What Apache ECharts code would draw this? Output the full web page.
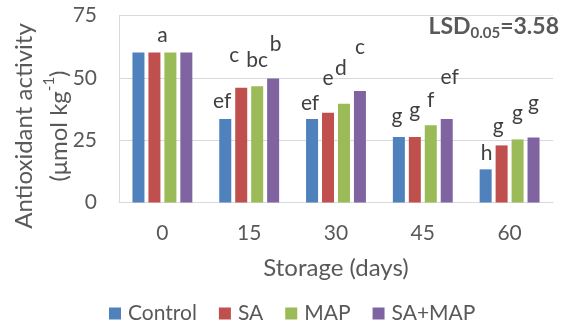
<!DOCTYPE html>
<html><head><meta charset="utf-8">
<script src="https://cdn.jsdelivr.net/npm/echarts@6/dist/echarts.min.js"></script>
<style>html,body{margin:0;padding:0;background:#fff}#c{width:565px;height:324px}</style>
</head><body><div id="c"></div>
<script>
const categories = ['0', '15', '30', '45', '60'];
const seriesNames = ['Control', 'SA', 'MAP', 'SA+MAP'];
const controlValues = [60.2, 33.5, 33.5, 26.3, 13.3];
const saValues = [60.2, 46.0, 36.0, 26.3, 22.9];
const mapValues = [60.2, 46.6, 39.6, 31.0, 25.3];
const saMapValues = [60.2, 49.7, 44.7, 33.5, 26.1];
const controlLetters = ['', 'ef', 'ef', 'g', 'h'];
const saLetters = ['a', 'c', 'e', 'g', 'g'];
const mapLetters = ['', 'bc', 'd', 'f', 'g'];
const saMapLetters = ['', 'b', 'c', 'ef', 'g'];
const yTicks = [0, 25, 50, 75];
const lsdText = { name: 'LSD', sub: '0.05', value: '=3.58' };

// label nudges (layout only), px relative to bar top
const nudges = [
  [[0,0],[-3,-7.5],[-2,-5],[-2,-10],[1,-6]],
  [[8,-7],[-7,-22],[0,-24],[0,-16.5],[-3.5,-9]],
  [[0,0],[0,-16],[-3,-25],[0,-14],[0,-16]],
  [[0,0],[2.5,-24],[0,-33],[3,-31],[0,-24]]
];
const colors = ['#4F81BD', '#C0504D', '#9BBB59', '#8064A2'];
const FONT = 'Lato';
const TXT = '#595959';

const values = [controlValues, saValues, mapValues, saMapValues];
const letters = [controlLetters, saLetters, mapLetters, saMapLetters];

const series = seriesNames.map((name, s) => ({
  name, type: 'bar', barWidth: 12, barGap: '33%',
  itemStyle: { color: colors[s] },
  data: values[s].map((v, i) => ({
    value: v,
    label: {
      show: letters[s][i] !== '',
      formatter: letters[s][i],
      position: 'top', distance: 0,
      offset: nudges[s][i],
      fontFamily: FONT, fontSize: 21, color: '#404040'
    }
  }))
}));

const chart = echarts.init(document.getElementById('c'), null, { renderer: 'canvas' });
chart.setOption({
  animation: false,
  color: colors,
  grid: { left: 119, right: 12, top: 15.5, bottom: 121.5, containLabel: false },
  xAxis: {
    type: 'category', data: categories,
    axisLine: { lineStyle: { color: '#d9d9d9', width: 1 } },
    axisTick: { show: false },
    axisLabel: { fontFamily: FONT, fontSize: 21, color: TXT, margin: 20 },
    name: 'Storage (days)', nameLocation: 'middle', nameGap: 54,
    nameTextStyle: { fontFamily: FONT, fontSize: 24, color: TXT }
  },
  yAxis: {
    type: 'value', min: yTicks[0], max: yTicks[yTicks.length - 1], interval: 25,
    axisLine: { show: true, lineStyle: { color: '#d9d9d9' } },
    axisTick: { show: false },
    splitLine: { lineStyle: { color: '#d9d9d9' } },
    axisLabel: { fontFamily: FONT, fontSize: 21, color: TXT, margin: 22 }
  },
  legend: {
    data: seriesNames, left: 109, top: 303, padding: 0, itemWidth: 12, itemHeight: 12, itemGap: 22,
    icon: 'rect',
    textStyle: { fontFamily: FONT, fontSize: 21, color: TXT, padding: [0, 0, 0, 2] }
  },
  graphic: [
    {
      type: 'text', x: 42, y: 126, rotation: Math.PI / 2,
      style: {
        text: '{t|Antioxidant activity}\n{t|(μmol kg}{sup|-1}{t|)}',
        align: 'center', verticalAlign: 'middle',
        rich: {
          t: { fontFamily: FONT, fontSize: 24, lineHeight: 35, fill: TXT, color: TXT },
          sup: { fontFamily: FONT, fontSize: 15, lineHeight: 22, verticalAlign: 'top', fill: TXT, color: TXT }
        }
      }
    },
    {
      type: 'text', right: 6, top: 15,
      style: {
        text: '{b|' + lsdText.name + '}{s|' + lsdText.sub + '}{b|' + lsdText.value + '}',
        rich: {
          b: { fontFamily: FONT, fontSize: 23, fontWeight: 'bold', lineHeight: 28, fill: TXT, color: TXT },
          s: { fontFamily: FONT, fontSize: 15, fontWeight: 'bold', lineHeight: 14, verticalAlign: 'bottom', fill: TXT, color: TXT }
        }
      }
    }
  ],
  series
});
</script></body></html>
